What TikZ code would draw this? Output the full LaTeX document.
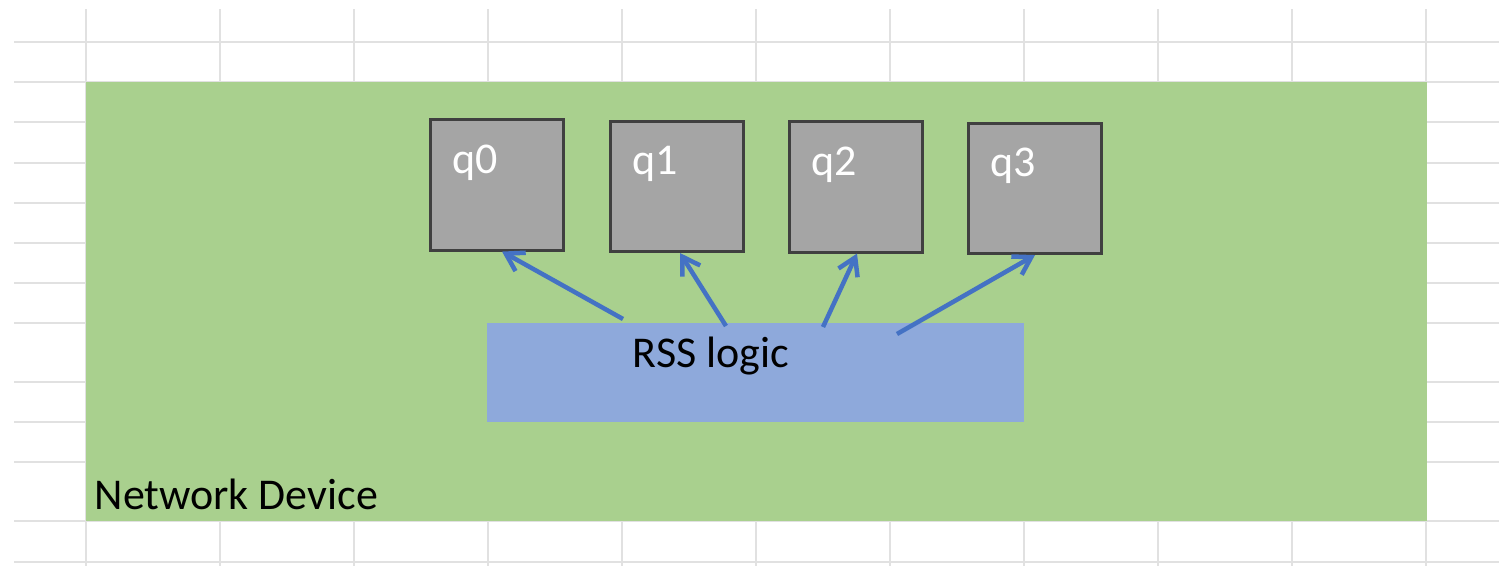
\documentclass[tikz,border=0pt]{standalone}
\usepackage{fontspec}
\setmainfont{Carlito}
\usetikzlibrary{arrows.meta}
\definecolor{devgreen}{HTML}{A9D08E}
\definecolor{rssblue}{HTML}{8EA9DB}
\definecolor{qgray}{HTML}{A5A5A5}
\definecolor{qedge}{HTML}{404040}
\definecolor{flowblue}{HTML}{4472C4}
\definecolor{cellline}{HTML}{E1E1E1}

\begin{document}
\begin{tikzpicture}[x=0.01cm, y=-0.01cm,
  cell/.style={draw=cellline, line width=0.02cm},
  queue/.style={draw=qedge, fill=qgray, line width=0.03cm, minimum width=1.32cm, minimum height=1.3cm, inner sep=0pt},
  txt/.style={anchor=base west, inner sep=0pt, font=\fontsize{12.5}{15}\selectfont},
  flow/.style={draw=flowblue, line width=0.045cm, -{Straight Barb[length=0.17cm, width=0.21cm]}}]
  \path[fill=white, use as bounding box] (0,0) rectangle (1499,566);
  % spreadsheet cells
  \foreach \gy in {42,82,122,163,203,243,283,323,382,422,462,521,562}
    \draw[cell] (14,\gy) -- (1499,\gy);
  \foreach \gx in {86,220,...,1426}
    \draw[cell] (\gx,9) -- (\gx,566);
  % device and rss block
  \node[fill=devgreen, minimum width=13.41cm, minimum height=4.39cm, inner sep=0pt] (dev) at (756.5,301.5) {};
  \node[fill=rssblue, minimum width=5.37cm, minimum height=0.99cm, inner sep=0pt] (rss) at (755.5,372.5) {};
  \node[txt] (devtext) at ([shift={(9,-12)}]dev.south west) {Network Device};
  \node[txt] (rsstext) at ([shift={(146,45)}]rss.north west) {RSS logic};
  % queues
  \node[queue] (q0) at (497,185) {};
  \node[queue] (q1) at (677,186.5) {};
  \node[queue] (q2) at (856,187) {};
  \node[queue] (q3) at (1035,188.5) {};
  \node[txt, text=white] (q0text) at ([shift={(22,55)}]q0.north west) {q0};
  \node[txt, text=white] (q1text) at ([shift={(22,55)}]q1.north west) {q1};
  \node[txt, text=white] (q2text) at ([shift={(22,55)}]q2.north west) {q2};
  \node[txt, text=white] (q3text) at ([shift={(22,55)}]q3.north west) {q3};
  % spreading
  \coordinate (from0) at (623,319);
  \coordinate (from1) at (726,326);
  \coordinate (from2) at (823,327);
  \coordinate (from3) at (897,334);
  \draw[flow] (from0) -- ([shift={(5,0)}]q0.south);
  \draw[flow] (from1) -- ([shift={(3,0)}]q1.south);
  \draw[flow] (from2) -- ([shift={(1,0)}]q2.south);
  \draw[flow] (from3) -- (q3.south);
\end{tikzpicture}
\end{document}
